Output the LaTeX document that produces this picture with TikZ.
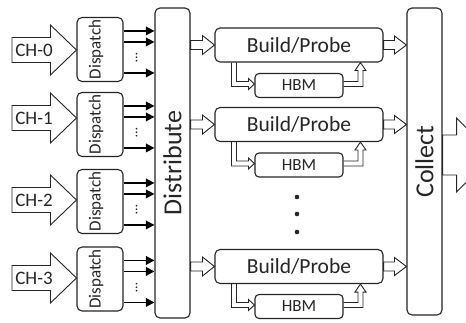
\documentclass[tikz,border=0pt]{standalone}
\usepackage{fontspec}
\setmainfont{Carlito}
\usetikzlibrary{calc,arrows.meta}

\tikzset{
  box/.style={draw=black!85, line width=1.1pt, rounded corners=5pt, inner sep=0pt},
  dispbox/.style={box, minimum width=46pt, minimum height=64pt},
  tallbox/.style={box, minimum width=35pt},
  bpbox/.style={box, minimum width=168pt, minimum height=34pt,
    font=\fontsize{21.5}{24}\selectfont, text=black!85},
  hbmbox/.style={box, rounded corners=4pt, minimum width=88pt, minimum height=24pt,
    font=\fontsize{17}{20}\selectfont, text=black!85},
  lbl/.style={inner sep=0pt, text=black!85},
  hollow/.style={draw=black!85, line width=0.9pt, line join=miter},
  fatarrow/.style={draw=black, line width=1.8pt, -{Triangle[length=8.5pt,width=8.5pt]}},
}

% horizontal block arrow: tail centre, tip, half shaft, half head, head length
\newcommand\hollowarrow[5]{%
  \draw[hollow] ($(#1)+(0,-#3)$) -- ($(#2)+(-#5,-#3)$) -- ($(#2)+(-#5,-#4)$) -- (#2)
    -- ($(#2)+(-#5,#4)$) -- ($(#2)+(-#5,#3)$) -- ($(#1)+(0,#3)$) -- cycle;}

\begin{document}
\begin{tikzpicture}[x=1pt,y=-1pt]
\useasboundingbox (0,0) rectangle (466,323);
\clip (0,0) rectangle (466,323);
\fill[white] (0,0) rectangle (466,323);

% dispatch stages
\node[dispbox] (d0) at (100,49.5) {};
\node[dispbox] (d1) at (100,124.5) {};
\node[dispbox] (d2) at (100,201.5) {};
\node[dispbox] (d3) at (100,279) {};

% distribute and collect columns
\node[tallbox, minimum height=310pt] (dist) at (172.5,163) {};
\node[lbl, rotate=90, font=\fontsize{26}{30}\selectfont] (distlbl) at (dist.center) {Distribute};
\node[tallbox, minimum height=307pt] (coll) at (424.5,161.5) {};
\node[lbl, rotate=90, font=\fontsize{26}{30}\selectfont] (colllbl) at (coll.center) {Collect};

% build/probe units with their HBM
\node[bpbox] (bp1) at (299,45) {Build/Probe};
\node[bpbox] (bp2) at (299,124.5) {Build/Probe};
\node[bpbox] (bp3) at (299,266.5) {Build/Probe};
\node[hbmbox] (hbm1) at (299,85.5) {HBM};
\node[hbmbox] (hbm2) at (299,165) {HBM};
\node[hbmbox] (hbm3) at (299,306.5) {HBM};

% input channels
\coordinate (cht0) at (12,50);
\coordinate (cht1) at (12,118);
\coordinate (cht2) at (12,200);
\coordinate (cht3) at (12,278);
\foreach \i in {0,1,2,3} {
  \coordinate (chp\i) at (d\i.west |- cht\i);
  \hollowarrow{cht\i}{chp\i}{12.5}{25}{26}
  \node[lbl, font=\fontsize{19}{22}\selectfont] (chl\i) at ($(cht\i)+(22,0)$) {CH-\i};
  \node[lbl, rotate=90, font=\fontsize{17}{20}\selectfont] (dl\i) at ($(d\i.center)+(-4,0)$) {Dispatch};
  \foreach \o in {14,25,56}
    \draw[fatarrow] ($(d\i.north east)+(0,\o)$) -- ($(dist.west |- d\i.north east)+(0,\o)$);
  \node[lbl, rotate=90, font=\fontsize{14}{16}\selectfont] (dd\i) at ($(d\i.north east)+(13,41)$) {\ldots};
}

% links around each build/probe unit
\foreach \i in {1,2,3} {
  \coordinate (di\i) at (dist.east |- bp\i.west);
  \coordinate (ci\i) at (coll.west |- bp\i.east);
  \hollowarrow{di\i}{bp\i.west}{4.5}{9.5}{12}
  \hollowarrow{bp\i.east}{ci\i}{4.5}{9}{12}
  % down to HBM
  \coordinate (ta\i) at ($(bp\i.south west)+(19.5,0)$);
  \coordinate (tb\i) at ($(hbm\i.west)+(0,-1.5)$);
  \coordinate (ca\i) at (ta\i |- tb\i);
  \draw[hollow] ($(ta\i)+(-2.5,0)$) -- ($(ca\i)+(-2.5,2.5)$) -- ($(tb\i)+(-6,2.5)$)
    -- ($(tb\i)+(-6,5.5)$) -- (tb\i) -- ($(tb\i)+(-6,-5.5)$) -- ($(tb\i)+(-6,-2.5)$)
    -- ($(ca\i)+(2.5,-2.5)$) -- ($(ta\i)+(2.5,0)$);
  % back up from HBM
  \coordinate (ra\i) at ($(hbm\i.east)+(0,-1.5)$);
  \coordinate (rb\i) at ($(bp\i.south west)+(146,0)$);
  \coordinate (rc\i) at (rb\i |- ra\i);
  \draw[hollow] ($(ra\i)+(0,-2.5)$) -- ($(rc\i)+(-2.5,-2.5)$) -- ($(rb\i)+(-2.5,8)$)
    -- ($(rb\i)+(-5.5,8)$) -- (rb\i) -- ($(rb\i)+(5.5,8)$) -- ($(rb\i)+(2.5,8)$)
    -- ($(rc\i)+(2.5,2.5)$) -- ($(ra\i)+(0,2.5)$);
}

% more units in between
\foreach \y in {197,214,232}
  \fill[black!85] (297,\y) circle (2.3);

% output
\coordinate (outtail) at ($(coll.east)+(0,-6.5)$);
\coordinate (outtip) at ($(outtail)+(51,0)$);
\hollowarrow{outtail}{outtip}{20}{37}{37}
\end{tikzpicture}
\end{document}
